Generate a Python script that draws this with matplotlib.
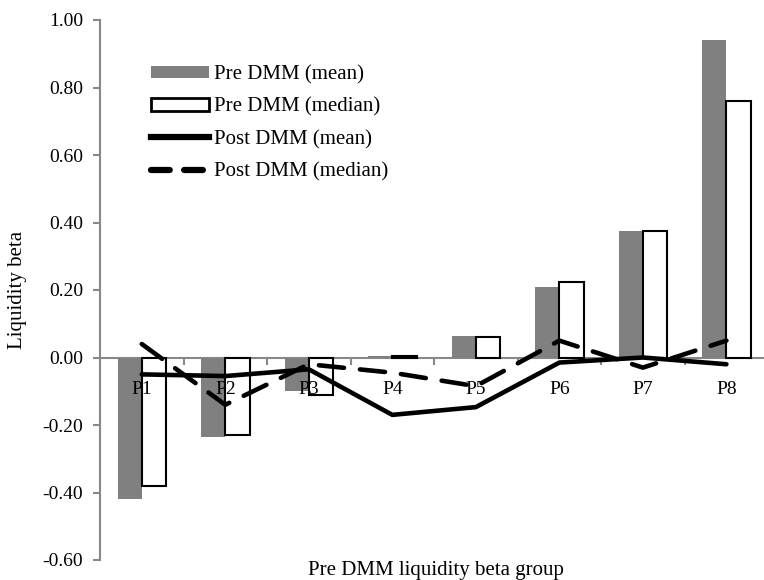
import matplotlib
matplotlib.use("Agg")
import matplotlib.pyplot as plt
import numpy as np
from matplotlib.patches import Patch
from matplotlib.lines import Line2D

plt.rcParams['font.family'] = ['Liberation Serif', 'DejaVu Serif']

categories = ["P1", "P2", "P3", "P4", "P5", "P6", "P7", "P8"]
pre_mean = [-0.42, -0.235, -0.10, 0.005, 0.065, 0.21, 0.375, 0.94]
pre_median = [-0.38, -0.23, -0.11, 0.003, 0.06, 0.225, 0.375, 0.76]
post_mean = [-0.05, -0.055, -0.035, -0.17, -0.147, -0.015, 0.0, -0.02]
post_median = [0.04, -0.14, -0.02, -0.045, -0.085, 0.05, -0.03, 0.05]
yticks = [-0.6, -0.4, -0.2, 0.0, 0.2, 0.4, 0.6, 0.8, 1.0]

W, H = 764, 580
fig = plt.figure(figsize=(W / 100, H / 100), dpi=100)
ax = fig.add_axes([100 / W, 20 / H, 664 / W, 540 / H])
ax.set_axisbelow(False)

x = np.arange(len(categories))
bw = 0.29
ax.bar(x - bw / 2, pre_mean, bw, color='#808080', edgecolor='none', zorder=2)
ax.bar(x + bw / 2, pre_median, bw, color='white', edgecolor='black', linewidth=1.5, zorder=2)
ax.plot(x, post_mean, color='black', lw=3.3, solid_capstyle='round', zorder=4)
ax.plot(x, post_median, color='black', lw=3.3, dashes=(5.5, 3.5), dash_capstyle='round', zorder=4)

ax.set_xlim(-0.5, 7.45)
ax.set_ylim(-0.6, 1.0)
ax.set_yticks(yticks)
ax.set_yticklabels([f"{v:.2f}" for v in yticks], fontsize=14)

gray = '#888888'
for s in ['top', 'right']:
    ax.spines[s].set_visible(False)
ax.spines['left'].set_color(gray)
ax.spines['left'].set_linewidth(1.5)
ax.spines['bottom'].set_position(('data', 0))
ax.spines['bottom'].set_color(gray)
ax.spines['bottom'].set_linewidth(1.5)
ax.spines['bottom'].set_zorder(1)
ax.tick_params(axis='y', direction='out', length=5, width=1.5, color=gray, pad=7)
ax.set_xticks(x)
ax.set_xticklabels(categories, fontsize=14)
ax.tick_params(axis='x', which='major', length=0, pad=17)
ax.set_xticks(x[:-1] + 0.5, minor=True)
ax.tick_params(axis='x', which='minor', direction='out', length=5, width=1.5, color=gray)

fig.text(18 / W, 1 - 290 / H, "Liquidity beta", rotation=90, ha='center', va='center', fontsize=15)
fig.text(436 / W, 1 - 571 / H, "Pre DMM liquidity beta group", ha='center', va='center', fontsize=15)

handles = [
    Patch(facecolor='#808080', edgecolor='none'),
    Patch(facecolor='white', edgecolor='black', linewidth=2),
    Line2D([], [], color='black', lw=4.5),
    Line2D([], [], color='black', lw=4.5, dashes=(3.0, 2.3), dash_capstyle='round'),
]
labels = ["Pre DMM (mean)", "Pre DMM (median)", "Post DMM (mean)", "Post DMM (median)"]
fig.legend(handles, labels, loc='upper left', bbox_to_anchor=(151 / W, 1 - 65 / H),
           frameon=False, fontsize=15, handlelength=2.8, handleheight=0.55,
           handletextpad=0.2, labelspacing=0.63, borderpad=0, borderaxespad=0)

fig.savefig("out.png", dpi=100)
